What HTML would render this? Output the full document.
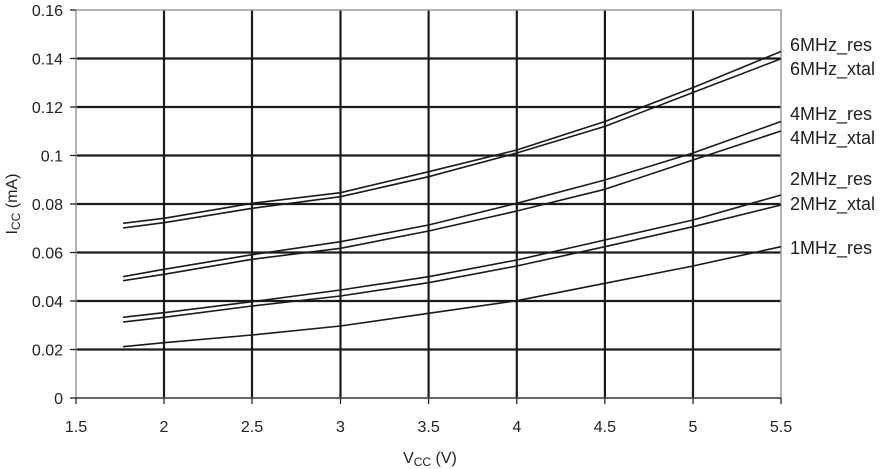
<!DOCTYPE html>
<html><head><meta charset="utf-8"><style>
body{margin:0;background:#fff}
svg{display:block;font-family:"Liberation Sans",Arial,sans-serif}
</style></head><body>
<svg width="889" height="469" viewBox="0 0 889 469" xmlns="http://www.w3.org/2000/svg">
<rect width="889" height="469" fill="#fff"/>
<g stroke="#1a1a1a" stroke-width="2.2">
<line x1="76" x2="781" y1="58.5" y2="58.5"/>
<line x1="76" x2="781" y1="107" y2="107"/>
<line x1="76" x2="781" y1="155.5" y2="155.5"/>
<line x1="76" x2="781" y1="204" y2="204"/>
<line x1="76" x2="781" y1="252.5" y2="252.5"/>
<line x1="76" x2="781" y1="301" y2="301"/>
<line x1="76" x2="781" y1="349.5" y2="349.5"/>
<line x1="164" x2="164" y1="10" y2="398"/>
<line x1="252" x2="252" y1="10" y2="398"/>
<line x1="340.5" x2="340.5" y1="10" y2="398"/>
<line x1="428.6" x2="428.6" y1="10" y2="398"/>
<line x1="516.8" x2="516.8" y1="10" y2="398"/>
<line x1="604.9" x2="604.9" y1="10" y2="398"/>
<line x1="693" x2="693" y1="10" y2="398"/>
</g>
<rect x="76" y="10" width="705" height="388" fill="none" stroke="#999" stroke-width="1.5"/>
<line x1="76" x2="781" y1="398" y2="398" stroke="#444" stroke-width="1.5"/>
<g stroke="#222" stroke-width="1.3">
<line x1="70" x2="76" y1="10" y2="10"/><line x1="70" x2="76" y1="58.5" y2="58.5"/><line x1="70" x2="76" y1="107" y2="107"/><line x1="70" x2="76" y1="155.5" y2="155.5"/><line x1="70" x2="76" y1="204" y2="204"/><line x1="70" x2="76" y1="252.5" y2="252.5"/><line x1="70" x2="76" y1="301" y2="301"/><line x1="70" x2="76" y1="349.5" y2="349.5"/><line x1="70" x2="76" y1="398" y2="398"/>
<line x1="76" x2="76" y1="398" y2="404"/><line x1="164" x2="164" y1="398" y2="404"/><line x1="252" x2="252" y1="398" y2="404"/><line x1="340.5" x2="340.5" y1="398" y2="404"/><line x1="428.6" x2="428.6" y1="398" y2="404"/><line x1="516.8" x2="516.8" y1="398" y2="404"/><line x1="604.9" x2="604.9" y1="398" y2="404"/><line x1="693" x2="693" y1="398" y2="404"/><line x1="781" x2="781" y1="398" y2="404"/>
</g>
<g fill="none" stroke="#1a1a1a" stroke-width="1.6" stroke-linejoin="round">
<polyline points="123,223.3 164,218.3 252,203.3 340.5,192.7 428.6,171.7 516.8,150 604.9,121.5 693,87.6 781,51.5"/>
<polyline points="123,228 164,222.7 252,208.3 340.5,196.7 428.6,176.7 516.8,153 604.9,126.4 693,92.5 781,58.8"/>
<polyline points="123,276.7 164,269.3 252,254.7 340.5,241.7 428.6,225 516.8,203.3 604.9,180 693,153 781,121.5"/>
<polyline points="123,280.7 164,274.3 252,259.3 340.5,248.3 428.6,231 516.8,211 604.9,189.3 693,160 781,131"/>
<polyline points="123,317.3 164,312.7 252,301.7 340.5,290 428.6,276.7 516.8,260 604.9,240 693,220 781,195"/>
<polyline points="123,322 164,317.3 252,306 340.5,296 428.6,282.7 516.8,266 604.9,246.7 693,226.7 781,205"/>
<polyline points="123,346.7 164,342.7 252,335 340.5,326 428.6,313.3 516.8,300.7 604.9,283.3 693,266 781,246.7"/>
</g>
<g font-size="16" fill="#222" text-anchor="end">
<text x="63" y="16">0.16</text><text x="63" y="64.5">0.14</text><text x="63" y="113">0.12</text><text x="63" y="161.5">0.1</text><text x="63" y="210">0.08</text><text x="63" y="258.5">0.06</text><text x="63" y="307">0.04</text><text x="63" y="355.5">0.02</text><text x="63" y="404">0</text>
</g>
<g font-size="16" fill="#222" text-anchor="middle">
<text x="76" y="432">1.5</text><text x="164" y="432">2</text><text x="252" y="432">2.5</text><text x="340.5" y="432">3</text><text x="428.6" y="432">3.5</text><text x="516.8" y="432">4</text><text x="604.9" y="432">4.5</text><text x="693" y="432">5</text><text x="781" y="432">5.5</text>
<text x="430" y="463">V<tspan font-size="12" dy="3">CC</tspan><tspan dy="-3"> (V)</tspan></text>
</g>
<text transform="translate(17,204) rotate(-90)" font-size="16" fill="#222" text-anchor="middle">I<tspan font-size="12" dy="3">CC</tspan><tspan dy="-3"> (mA)</tspan></text>
<g font-size="18" fill="#222">
<text x="790" y="51">6MHz_res</text><text x="790" y="75">6MHz_xtal</text>
<text x="790" y="120">4MHz_res</text><text x="790" y="144">4MHz_xtal</text>
<text x="790" y="185">2MHz_res</text><text x="790" y="210">2MHz_xtal</text>
<text x="790" y="254">1MHz_res</text>
</g>
</svg>
</body></html>
